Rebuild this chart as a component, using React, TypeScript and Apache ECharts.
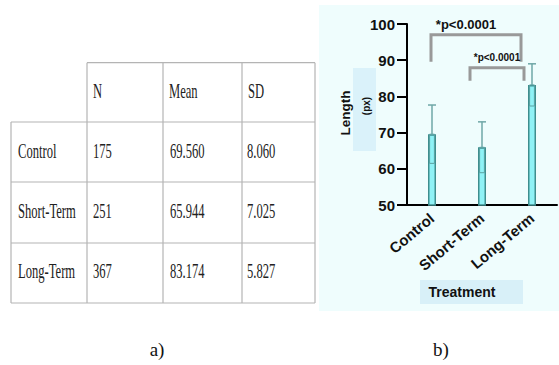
import React, { useEffect, useRef } from "react";
import * as echarts from "echarts";

// ---------- data ----------
const categories = ["Control", "Short-Term", "Long-Term"];
const nValues = [175, 251, 367];
const meanValues = [69.56, 65.944, 83.174];
const sdValues = [8.06, 7.025, 5.827];
const meanLabels = ["69.560", "65.944", "83.174"];
const sdLabels = ["8.060", "7.025", "5.827"];
const tableHeaders = ["N", "Mean", "SD"];
const yMin = 50;
const yMax = 100;
const yStep = 10;
// comparisons: from category, to category, bracket top, leg ends
const comparisonFrom = [0, 1];
const comparisonTo = [2, 2];
const comparisonTop = [97, 87.9];
const comparisonLegLeft = [89.6, 84.3];
const comparisonLegRight = [89.6, 84.3];
const comparisonLabels = ["*p<0.0001", "*p<0.0001"];
const panelLabels = ["a)", "b)"];

// ---------- styles ----------
const bracketXOffsets = [[-1, -11], [-12, -8]];
const bracketLabelStyle = [
  { dx: -10, dy: -10, size: 13 },
  { dx: 0, dy: -10, size: 10 },
];

export default function App() {
  const ref = useRef<HTMLDivElement>(null);

  useEffect(() => {
    document.body.style.margin = "0";
    const chart = echarts.init(ref.current!, null, { renderer: "svg" });

    const colX = [11, 87, 163, 242, 315];
    const rowY = [62.7, 122, 182, 243, 303];
    const lineColor = "#b4b4b4";
    const tableEls: any[] = [];
    rowY.forEach((y, i) => {
      tableEls.push({
        type: "line",
        shape: { x1: i === 0 ? colX[1] : colX[0], y1: y, x2: colX[4], y2: y },
        style: { stroke: lineColor, lineWidth: 1.2 },
      });
    });
    colX.forEach((x, i) => {
      tableEls.push({
        type: "line",
        shape: { x1: x, y1: i === 0 ? rowY[1] : rowY[0], x2: x, y2: rowY[4] },
        style: { stroke: lineColor, lineWidth: 1.2 },
      });
    });
    const cellText = (t: string, x: number, y: number) => ({
      type: "text",
      x,
      y,
      scaleX: 0.6,
      scaleY: 1,
      style: {
        text: t,
        x: 0,
        y: 0,
        fill: "#222",
        font: "21px 'Liberation Serif', 'Times New Roman', serif",
        textAlign: "left",
        verticalAlign: "middle",
      },
    });
    tableHeaders.forEach((h, i) => tableEls.push(cellText(h, colX[i + 1] + 6, 91)));
    const rowCenters = [151, 211, 271];
    categories.forEach((c, r) => {
      tableEls.push(cellText(c, colX[0] + 7, rowCenters[r]));
      tableEls.push(cellText(String(nValues[r]), colX[1] + 6, rowCenters[r]));
      tableEls.push(cellText(meanLabels[r], colX[2] + 7, rowCenters[r]));
      tableEls.push(cellText(sdLabels[r], colX[3] + 5, rowCenters[r]));
    });

    const boldSans = "'Liberation Sans', Arial, sans-serif";

    const graphic: any[] = [
      {
        type: "rect",
        z: -10,
        shape: { x: 319, y: 5, width: 240, height: 306 },
        style: { fill: "#effdfd" },
      },
      {
        type: "rect",
        z: -9,
        shape: { x: 353, y: 68, width: 23, height: 83 },
        style: { fill: "#daf2fa" },
      },
      {
        type: "rect",
        z: -9,
        shape: { x: 420, y: 280, width: 103, height: 24 },
        style: { fill: "#d8f0f8" },
      },
      {
        type: "text",
        x: 345,
        y: 113,
        rotation: Math.PI / 2,
        style: {
          text: "Length",
          fill: "#111",
          font: `bold 13.5px ${boldSans}`,
          textAlign: "center",
          verticalAlign: "middle",
        },
      },
      {
        type: "text",
        x: 366,
        y: 106,
        rotation: Math.PI / 2,
        style: {
          text: "(px)",
          fill: "#111",
          font: `bold 10px ${boldSans}`,
          textAlign: "center",
          verticalAlign: "middle",
        },
      },
      {
        type: "text",
        x: 462,
        y: 292,
        style: {
          text: "Treatment",
          fill: "#111",
          font: `bold 14px ${boldSans}`,
          textAlign: "center",
          verticalAlign: "middle",
        },
      },
      {
        type: "text",
        x: 157,
        y: 349,
        style: {
          text: panelLabels[0],
          fill: "#111",
          font: "19px 'Liberation Serif', 'Times New Roman', serif",
          textAlign: "center",
          verticalAlign: "middle",
        },
      },
      {
        type: "text",
        x: 441,
        y: 349,
        style: {
          text: panelLabels[1],
          fill: "#111",
          font: "19px 'Liberation Serif', 'Times New Roman', serif",
          textAlign: "center",
          verticalAlign: "middle",
        },
      },
      ...tableEls,
    ];

    const errorData = categories.map((_, i) => [i, meanValues[i], sdValues[i]]);
    const bracketData = comparisonFrom.map((f, i) => [
      f,
      comparisonTo[i],
      comparisonTop[i],
      comparisonLegLeft[i],
      comparisonLegRight[i],
      i,
    ]);

    chart.setOption({
      animation: false,
      graphic,
      grid: { left: 407, top: 24, width: 150, height: 181, containLabel: false },
      xAxis: {
        type: "category",
        data: categories,
        axisLine: { lineStyle: { color: "#000", width: 2 } },
        axisTick: { alignWithLabel: true, length: 8, lineStyle: { color: "#000", width: 2 } },
        axisLabel: {
          rotate: 40,
          interval: 0,
          margin: 11,
          color: "#111",
          fontFamily: boldSans,
          fontWeight: "bold",
          fontSize: 15,
        },
      },
      yAxis: {
        type: "value",
        min: yMin,
        max: yMax,
        interval: yStep,
        splitLine: { show: false },
        axisLine: { show: true, lineStyle: { color: "#000", width: 2 } },
        axisTick: { show: true, length: 10, lineStyle: { color: "#000", width: 2 } },
        axisLabel: {
          margin: 12,
          color: "#111",
          fontFamily: boldSans,
          fontWeight: "bold",
          fontSize: 15,
        },
      },
      series: [
        {
          type: "bar",
          data: meanValues,
          barWidth: 8,
          itemStyle: { color: "#8ff2f6", borderColor: "#3f8e8e", borderWidth: 1.5 },
          z: 2,
        },
        {
          type: "custom",
          data: errorData,
          z: 3,
          renderItem: (params: any, api: any) => {
            const idx = api.value(0);
            const m = api.value(1);
            const s = api.value(2);
            const pTop = api.coord([idx, m + s]);
            const pMean = api.coord([idx, m]);
            const pLow = api.coord([idx, m - s]);
            const x = pMean[0];
            return {
              type: "group",
              children: [
                {
                  type: "line",
                  shape: { x1: x, y1: pMean[1], x2: x, y2: pTop[1] },
                  style: { stroke: "#6fa7a7", lineWidth: 1.5 },
                },
                {
                  type: "line",
                  shape: { x1: x - 4, y1: pTop[1], x2: x + 4, y2: pTop[1] },
                  style: { stroke: "#6fa7a7", lineWidth: 1.5 },
                },
                {
                  type: "rect",
                  shape: { x: x - 2.4, y: pMean[1], width: 4.8, height: pLow[1] - pMean[1] },
                  style: { stroke: "#5aa2a2", lineWidth: 1, fill: "none" },
                },
              ],
            };
          },
        },
        {
          type: "custom",
          data: bracketData,
          z: 4,
          renderItem: (params: any, api: any) => {
            const f = api.value(0);
            const t = api.value(1);
            const top = api.value(2);
            const ll = api.value(3);
            const lr = api.value(4);
            const k = api.value(5);
            const off = bracketXOffsets[k];
            const a = api.coord([f, top]);
            const b = api.coord([t, top]);
            const aL = api.coord([f, ll]);
            const bL = api.coord([t, lr]);
            const x1 = a[0] + off[0];
            const x2 = b[0] + off[1];
            const ls = bracketLabelStyle[k];
            return {
              type: "group",
              children: [
                {
                  type: "polyline",
                  shape: {
                    points: [
                      [x1, aL[1]],
                      [x1, a[1]],
                      [x2, a[1]],
                      [x2, bL[1]],
                    ],
                  },
                  style: { stroke: "#999", lineWidth: 3, fill: "none", lineJoin: "miter" },
                },
                {
                  type: "text",
                  x: (x1 + x2) / 2 + ls.dx,
                  y: a[1] + ls.dy,
                  style: {
                    text: comparisonLabels[k],
                    fill: "#111",
                    font: `bold ${ls.size}px ${boldSans}`,
                    textAlign: "center",
                    verticalAlign: "middle",
                  },
                },
              ],
            };
          },
        },
      ],
    });

    return () => chart.dispose();
  }, []);

  return <div ref={ref} style={{ width: 559, height: 365 }} />;
}
